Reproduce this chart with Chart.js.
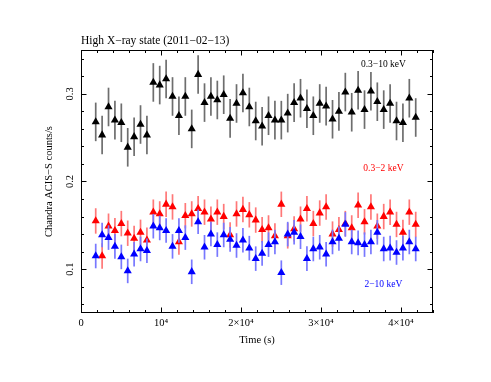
<!DOCTYPE html>
<html lang="en">
<head>
<meta charset="UTF-8" />
<title>High X-ray state light curve</title>
<script src="https://cdn.jsdelivr.net/npm/chart.js"></script>
<style>
  html, body { margin: 0; padding: 0; background: #fff; }
  #wrap { width: 491px; height: 382px; }
</style>
</head>
<body>
<div id="wrap"><canvas id="lc" width="491" height="382"></canvas></div>
<script>
// time bins (s), 800 s each
const times = [1840, 2640, 3440, 4240, 5040, 5840, 6640, 7440, 8240, 9040,
  9840, 10640, 11440, 12240, 13040, 13840, 14640, 15440, 16240, 17040,
  17840, 18640, 19440, 20240, 21040, 21840, 22640, 23440, 24240, 25040,
  25840, 26640, 27440, 28240, 29040, 29840, 30640, 31440, 32240, 33040,
  33840, 34640, 35440, 36240, 37040, 37840, 38640, 39440, 40240, 41040, 41840];

// count rates (counts/s)
const rateFull = [0.268, 0.253, 0.285, 0.270, 0.267, 0.239, 0.251, 0.265, 0.253, 0.313,
  0.310, 0.317, 0.297, 0.275, 0.297, 0.260, 0.322, 0.290, 0.297, 0.293,
  0.299, 0.272, 0.289, 0.301, 0.285, 0.269, 0.263, 0.275, 0.270, 0.270,
  0.278, 0.290, 0.295, 0.283, 0.275, 0.289, 0.286, 0.271, 0.280, 0.302,
  0.279, 0.304, 0.282, 0.303, 0.291, 0.282, 0.289, 0.269, 0.267, 0.295, 0.273];
const rateSoft = [0.155, 0.115, 0.149, 0.144, 0.152, 0.141, 0.135, 0.142, 0.133, 0.165,
  0.163, 0.174, 0.171, 0.131, 0.161, 0.163, 0.169, 0.165, 0.157, 0.165,
  0.160, 0.139, 0.163, 0.168, 0.162, 0.156, 0.145, 0.147, 0.138, 0.174,
  0.138, 0.146, 0.157, 0.169, 0.152, 0.164, 0.171, 0.140, 0.145, 0.152,
  0.147, 0.173, 0.154, 0.171, 0.149, 0.160, 0.165, 0.151, 0.142, 0.165, 0.151];
const rateHard = [0.115, 0.139, 0.136, 0.126, 0.114, 0.098, 0.117, 0.123, 0.121, 0.149,
  0.147, 0.144, 0.126, 0.144, 0.136, 0.097, 0.154, 0.125, 0.140, 0.128,
  0.139, 0.134, 0.127, 0.133, 0.124, 0.112, 0.118, 0.128, 0.131, 0.096,
  0.140, 0.142, 0.137, 0.112, 0.123, 0.125, 0.117, 0.131, 0.135, 0.151,
  0.131, 0.130, 0.128, 0.131, 0.142, 0.123, 0.124, 0.119, 0.124, 0.131, 0.123];

// 1-sigma errors
const errFull = 0.022;
const errSoft = 0.0145;
const errHard = 0.014;

const bandNames = ['0.3\u221210 keV', '0.3\u22122 keV', '2\u221210 keV'];
const xTicks = [0, 10000, 20000, 30000, 40000];
const xTickLabels = ['0', '10\u2074', '2\u00d710\u2074', '3\u00d710\u2074', '4\u00d710\u2074'];
const yTicks = [0.1, 0.2, 0.3];
const yTickLabels = ['0.1', '0.2', '0.3'];

const SERIF = '"Liberation Serif", "Times New Roman", serif';
Chart.defaults.font.family = SERIF;
Chart.defaults.color = '#000';

function points(vals) {
  return times.map((t, i) => ({ x: t, y: vals[i] }));
}

// where the band names sit, in data units
const bandLabelSpots = [
  { x: 37800, y: 0.3337, color: '#000000' },
  { x: 37800, y: 0.2150, color: '#ff0000' },
  { x: 37800, y: 0.0820, color: '#0000ff' }
];

const errorBars = {
  id: 'errorBars',
  beforeDatasetDraw(chart, args) {
    const ds = chart.data.datasets[args.index];
    const xs = chart.scales.x, ys = chart.scales.y;
    const ctx = chart.ctx;
    ctx.save();
    ctx.strokeStyle = ds.errColor;
    ctx.lineWidth = 1.7;
    ds.data.forEach(p => {
      const px = xs.getPixelForValue(p.x);
      ctx.beginPath();
      ctx.moveTo(px, ys.getPixelForValue(p.y - ds.err));
      ctx.lineTo(px, ys.getPixelForValue(p.y + ds.err));
      ctx.stroke();
    });
    ctx.restore();
  }
};

const frame = {
  id: 'frame',
  afterDraw(chart) {
    const { ctx, chartArea: a } = chart;
    const xs = chart.scales.x, ys = chart.scales.y;
    ctx.save();
    ctx.strokeStyle = '#000';
    ctx.lineWidth = 1;
    ctx.strokeRect(a.left + 0.5, a.top + 0.5, a.right - a.left - 1, a.bottom - a.top - 1);

    ctx.beginPath();
    // x ticks, inward on bottom and top
    for (let v = 0; v <= 44000; v += 2000) {
      const len = xTicks.includes(v) ? 5.5 : 3;
      const px = Math.round(xs.getPixelForValue(v)) + 0.5;
      ctx.moveTo(px, a.bottom); ctx.lineTo(px, a.bottom - len);
      ctx.moveTo(px, a.top); ctx.lineTo(px, a.top + len);
    }
    // y ticks, inward on left and right
    for (let k = 3; k <= 17; k++) {
      const v = k * 0.02;
      const major = k % 5 === 0;
      const len = major ? 5.5 : 3;
      const py = Math.round(ys.getPixelForValue(v)) + 0.5;
      ctx.moveTo(a.left, py); ctx.lineTo(a.left + len, py);
      ctx.moveTo(a.right, py); ctx.lineTo(a.right - len, py);
    }
    ctx.stroke();

    ctx.font = '9.5px ' + SERIF;
    ctx.textAlign = 'center';
    ctx.textBaseline = 'middle';
    bandLabelSpots.forEach((s, i) => {
      ctx.fillStyle = s.color;
      ctx.fillText(bandNames[i], xs.getPixelForValue(s.x), ys.getPixelForValue(s.y));
    });
    ctx.restore();
  }
};

new Chart(document.getElementById('lc'), {
  type: 'scatter',
  data: {
    datasets: [
      { label: bandNames[0], data: points(rateFull), err: errFull, errColor: '#6e6e6e',
        backgroundColor: '#000000', order: 3 },
      { label: bandNames[1], data: points(rateSoft), err: errSoft, errColor: '#ff7878',
        backgroundColor: '#ff0000', order: 2 },
      { label: bandNames[2], data: points(rateHard), err: errHard, errColor: '#7878ff',
        backgroundColor: '#0000ff', order: 1 }
    ]
  },
  options: {
    responsive: false,
    animation: false,
    devicePixelRatio: 1,
    layout: { padding: { left: 30, right: 58, top: 0, bottom: 20 } },
    elements: {
      point: { pointStyle: 'triangle', radius: 4.7, borderWidth: 0, hoverRadius: 4.7 }
    },
    plugins: {
      legend: { display: false },
      tooltip: { enabled: false },
      title: {
        display: true,
        text: 'High X\u2212ray state (2011\u221202\u221213)',
        align: 'start',
        fullSize: false,
        color: '#000',
        font: { size: 11.5, weight: 'normal' },
        padding: { top: 33.7, bottom: 2.5 }
      }
    },
    scales: {
      x: {
        type: 'linear',
        position: 'bottom',
        min: 0,
        max: 44000,
        grid: { display: false, drawTicks: false },
        border: { display: false },
        afterBuildTicks: s => { s.ticks = xTicks.map(v => ({ value: v })); },
        afterFit: s => { s.height = 49; },
        ticks: {
          autoSkip: false,
          maxRotation: 0,
          padding: 4,
          font: { size: 10.5 },
          callback: (v, i) => xTickLabels[i]
        },
        title: {
          display: true,
          text: 'Time (s)',
          font: { size: 10.5 },
          padding: { top: 0, bottom: 15 }
        }
      },
      y: {
        type: 'linear',
        min: 0.05,
        max: 0.35,
        grid: { display: false, drawTicks: false },
        border: { display: false },
        afterBuildTicks: s => { s.ticks = yTicks.map(v => ({ value: v })); },
        afterFit: s => { s.width = 51; },
        ticks: {
          minRotation: 90,
          maxRotation: 90,
          crossAlign: 'center',
          padding: 4.2,
          font: { size: 10.5 },
          callback: (v, i) => yTickLabels[i]
        },
        title: {
          display: true,
          text: 'Chandra ACIS\u2212S counts/s',
          font: { size: 10.5 },
          padding: { top: 12.8, bottom: 0 }
        }
      }
    }
  },
  plugins: [errorBars, frame]
});
</script>
</body>
</html>
